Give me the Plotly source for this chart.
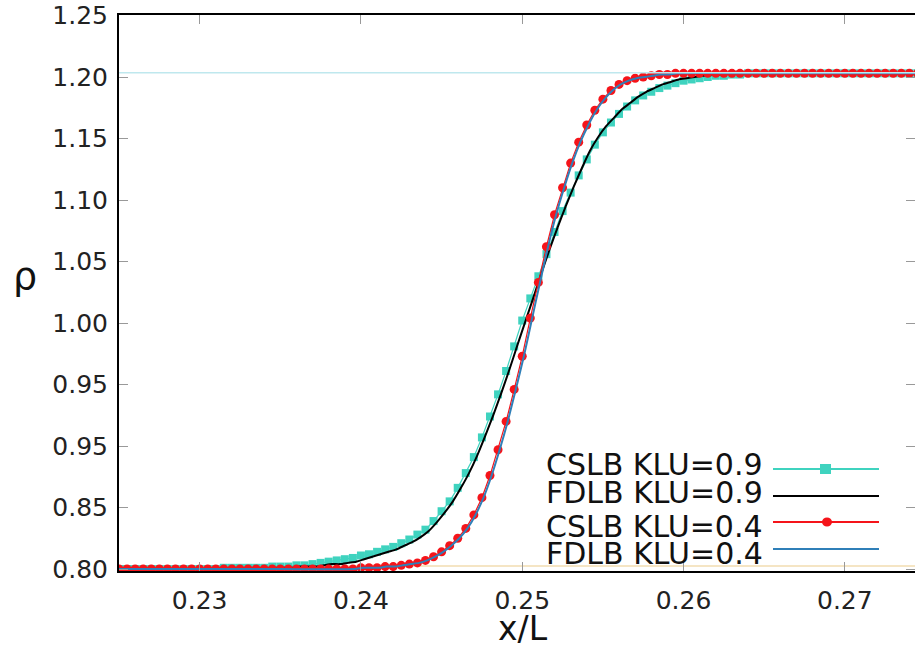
import plotly.graph_objects as go

# ---------------- data ----------------
X_CSLB = [0.2250, 0.2255, 0.2260, 0.2265, 0.2270, 0.2275, 0.2280, 0.2285, 0.2290, 0.2295,
          0.2300, 0.2305, 0.2310, 0.2315, 0.2320, 0.2325, 0.2330, 0.2335, 0.2340, 0.2345,
          0.2350, 0.2355, 0.2360, 0.2365, 0.2370, 0.2375, 0.2380, 0.2385, 0.2390, 0.2395,
          0.2400, 0.2405, 0.2410, 0.2415, 0.2420, 0.2425, 0.2430, 0.2435, 0.2440, 0.2445,
          0.2450, 0.2455, 0.2460, 0.2465, 0.2470, 0.2475, 0.2480, 0.2485, 0.2490, 0.2495,
          0.2500, 0.2505, 0.2510, 0.2515, 0.2520, 0.2525, 0.2530, 0.2535, 0.2540, 0.2545,
          0.2550, 0.2555, 0.2560, 0.2565, 0.2570, 0.2575, 0.2580, 0.2585, 0.2590, 0.2595,
          0.2600, 0.2605, 0.2610, 0.2615, 0.2620, 0.2625, 0.2630, 0.2635, 0.2640, 0.2645,
          0.2650, 0.2655, 0.2660, 0.2665, 0.2670, 0.2675, 0.2680, 0.2685, 0.2690, 0.2695,
          0.2700, 0.2705, 0.2710, 0.2715, 0.2720, 0.2725, 0.2730, 0.2735, 0.2740, 0.2745,
          0.2750]

CSLB_09 = [0.800, 0.800, 0.800, 0.800, 0.800, 0.800, 0.800, 0.800, 0.800, 0.800,
           0.800, 0.800, 0.800, 0.801, 0.801, 0.801, 0.801, 0.801, 0.801, 0.802,
           0.802, 0.802, 0.803, 0.803, 0.804, 0.805, 0.806, 0.807, 0.808, 0.809,
           0.811, 0.812, 0.814, 0.816, 0.818, 0.821, 0.824, 0.828, 0.832, 0.839,
           0.847, 0.855, 0.866, 0.878, 0.891, 0.907, 0.924, 0.942, 0.961, 0.981,
           1.002, 1.020, 1.038, 1.056, 1.074, 1.091, 1.106, 1.120, 1.133, 1.145,
           1.155, 1.163, 1.170, 1.176, 1.181, 1.185, 1.188, 1.191, 1.193, 1.195,
           1.197, 1.198, 1.199, 1.200, 1.201, 1.201, 1.202, 1.202, 1.203, 1.203,
           1.203, 1.203, 1.203, 1.203, 1.203, 1.203, 1.203, 1.203, 1.203, 1.203,
           1.203, 1.203, 1.203, 1.203, 1.203, 1.203, 1.203, 1.203, 1.203, 1.203,
           1.203]

CSLB_04 = [0.800, 0.800, 0.800, 0.800, 0.800, 0.800, 0.800, 0.800, 0.800, 0.800,
           0.800, 0.800, 0.800, 0.800, 0.800, 0.800, 0.800, 0.800, 0.800, 0.800,
           0.800, 0.800, 0.800, 0.800, 0.800, 0.800, 0.800, 0.800, 0.800, 0.800,
           0.801, 0.801, 0.801, 0.802, 0.802, 0.803, 0.804, 0.805, 0.807, 0.810,
           0.814, 0.819, 0.825, 0.833, 0.844, 0.858, 0.876, 0.897, 0.920, 0.946,
           0.973, 1.004, 1.033, 1.062, 1.088, 1.110, 1.130, 1.147, 1.161, 1.173,
           1.182, 1.189, 1.194, 1.197, 1.199, 1.200, 1.201, 1.202, 1.202, 1.203,
           1.203, 1.203, 1.203, 1.203, 1.203, 1.203, 1.203, 1.203, 1.203, 1.203,
           1.203, 1.203, 1.203, 1.203, 1.203, 1.203, 1.203, 1.203, 1.203, 1.203,
           1.203, 1.203, 1.203, 1.203, 1.203, 1.203, 1.203, 1.203, 1.203, 1.203,
           1.203]

X_FDLB_09 = [0.2250, 0.2300,
             0.2352, 0.2357, 0.2362, 0.2367, 0.2372, 0.2377, 0.2382, 0.2387, 0.2392, 0.2397,
             0.2402, 0.2407, 0.2412, 0.2417, 0.2422, 0.2427, 0.2432, 0.2437, 0.2442, 0.2447,
             0.2452, 0.2457, 0.2462, 0.2467, 0.2472, 0.2477, 0.2482, 0.2487, 0.2492, 0.2497,
             0.2502, 0.2507, 0.2512, 0.2517, 0.2522, 0.2527, 0.2532, 0.2537, 0.2542, 0.2547,
             0.2552, 0.2557, 0.2562, 0.2567, 0.2572, 0.2577, 0.2582, 0.2587, 0.2592, 0.2597,
             0.2602, 0.2607, 0.2612, 0.2617, 0.2622, 0.2627, 0.2632, 0.2637, 0.2642, 0.2647,
             0.2652,
             0.2700, 0.2750]
FDLB_09 = [0.800, 0.800,
           0.801, 0.801, 0.802, 0.802, 0.802, 0.803, 0.804, 0.804, 0.805, 0.806,
           0.808, 0.810, 0.812, 0.814, 0.816, 0.819, 0.822, 0.826, 0.831, 0.838,
           0.846, 0.855, 0.866, 0.878, 0.892, 0.908, 0.925, 0.943, 0.962, 0.982,
           1.0015, 1.021, 1.041, 1.060, 1.078, 1.095, 1.111, 1.126, 1.140, 1.151,
           1.160, 1.167, 1.174, 1.179, 1.184, 1.188, 1.191, 1.194, 1.196, 1.198,
           1.199, 1.200, 1.201, 1.202, 1.202, 1.203, 1.203, 1.203, 1.203, 1.203,
           1.203,
           1.203, 1.203]

X_FDLB_04 = [0.2250, 0.2300, 0.2350,
             0.2396, 0.2401, 0.2406, 0.2411, 0.2416, 0.2421, 0.2426, 0.2431, 0.2436, 0.2441,
             0.2446, 0.2451, 0.2456, 0.2461, 0.2466, 0.2471, 0.2476, 0.2481, 0.2486, 0.2491,
             0.2496, 0.2501, 0.2506, 0.2511, 0.2516, 0.2521, 0.2526, 0.2531, 0.2536, 0.2541,
             0.2546, 0.2551, 0.2556, 0.2561, 0.2566, 0.2571, 0.2576, 0.2581, 0.2586, 0.2591,
             0.2596,
             0.2650, 0.2700, 0.2750]
FDLB_04 = [0.800, 0.800, 0.800,
           0.800, 0.801, 0.801, 0.801, 0.802, 0.802, 0.803, 0.804, 0.805, 0.807,
           0.810, 0.814, 0.819, 0.825, 0.833, 0.844, 0.858, 0.876, 0.897, 0.920,
           0.946, 0.973, 1.003, 1.033, 1.062, 1.088, 1.110, 1.130, 1.147, 1.161,
           1.173, 1.182, 1.189, 1.194, 1.197, 1.199, 1.200, 1.201, 1.202, 1.202,
           1.203,
           1.203, 1.203, 1.203]

# faint reference lines seen in the picture
X_REF = [0.2250, 0.2750]
REF_TOP = [1.2035, 1.2035]
REF_BOTTOM = [0.8025, 0.8025]

X_TICKS = [0.23, 0.24, 0.25, 0.26, 0.27]
X_TICK_TEXT = ["0.23", "0.24", "0.25", "0.26", "0.27"]
Y_TICKS = [0.80, 0.85, 0.90, 0.95, 1.00, 1.05, 1.10, 1.15, 1.20, 1.25]
Y_TICK_TEXT = ["0.80", "0.85", "0.95", "0.95", "1.00", "1.05", "1.10", "1.15", "1.20", "1.25"]

LABELS = ["CSLB KLU=0.9", "FDLB KLU=0.9", "CSLB KLU=0.4", "FDLB KLU=0.4"]

# ---------------- styling ----------------
FONT = "DejaVu Sans"
TEAL = "#3fd3bf"
RED = "#f5141a"
BLUE = "#2f7fb8"
BLACK = "#000000"

fig = go.Figure()

fig.add_trace(go.Scatter(x=X_REF, y=REF_BOTTOM, mode="lines",
                         line=dict(color="#f2ddb0", width=1.5), hoverinfo="skip"))
fig.add_trace(go.Scatter(x=X_REF, y=REF_TOP, mode="lines", yaxis="y2",
                         line=dict(color="#bfe8ee", width=1.5), hoverinfo="skip"))

fig.add_trace(go.Scatter(x=X_CSLB, y=CSLB_09, mode="lines+markers", name=LABELS[0],
                         line=dict(color=TEAL, width=1.2),
                         marker=dict(symbol="square", size=8, color=TEAL)))
fig.add_trace(go.Scatter(x=X_FDLB_09, y=FDLB_09, mode="lines", name=LABELS[1],
                         line=dict(color=BLACK, width=2, shape="spline", smoothing=0.6)))
fig.add_trace(go.Scatter(x=X_CSLB, y=CSLB_04, mode="lines+markers", name=LABELS[2],
                         line=dict(color=RED, width=1.2),
                         marker=dict(symbol="circle", size=9, color=RED)))
fig.add_trace(go.Scatter(x=X_FDLB_04, y=FDLB_04, mode="lines", name=LABELS[3],
                         line=dict(color=BLUE, width=2, shape="spline", smoothing=0.6)))

# plot area geometry in pixels (used only to place the legend in paper units)
L, R, T, B = 119, 915, 15, 571
def px(x):
    return (x - L) / (R - L)
def py(y):
    return (B - y) / (B - T)

annotations = []
shapes = []
legend_rows = [
    (LABELS[0], 464, 469, TEAL, "square"),
    (LABELS[1], 492, 496, BLACK, None),
    (LABELS[2], 526, 522, RED, "circle"),
    (LABELS[3], 553, 549, BLUE, None),
]
for text, ty, ly, col, sym in legend_rows:
    annotations.append(dict(text=text, xref="paper", yref="paper", x=px(765), y=py(ty),
                            xanchor="right", yanchor="middle", showarrow=False,
                            font=dict(family=FONT, size=30, color="#111")))
    shapes.append(dict(type="line", xref="paper", yref="paper", x0=px(773), x1=px(879),
                       y0=py(ly), y1=py(ly), line=dict(color=col, width=2)))
    if sym == "square":
        shapes.append(dict(type="rect", xref="paper", yref="paper", x0=px(820), x1=px(831),
                           y0=py(474), y1=py(464), fillcolor=col, line=dict(width=0)))
    elif sym == "circle":
        shapes.append(dict(type="circle", xref="paper", yref="paper", x0=px(822), x1=px(832),
                           y0=py(526.5), y1=py(517.5), fillcolor=col, line=dict(width=0)))

annotations.append(dict(text="ρ", xref="paper", yref="paper", x=px(25), y=py(276),
                        xanchor="center", yanchor="middle", showarrow=False,
                        font=dict(family=FONT, size=38, color="#111")))
annotations.append(dict(text="x/L", xref="paper", yref="paper", x=px(523), y=py(628),
                        xanchor="center", yanchor="middle", showarrow=False,
                        font=dict(family=FONT, size=33, color="#111")))

YR = [0.7984, 1.2504]
fig.update_layout(
    width=915, height=648,
    margin=dict(l=L, r=915 - R, t=T, b=648 - B),
    plot_bgcolor="white", paper_bgcolor="white",
    showlegend=False,
    xaxis=dict(range=[0.225, 0.27435], tickvals=X_TICKS, ticktext=X_TICK_TEXT,
               ticks="inside", ticklen=9, tickwidth=1, tickcolor="#999",
               showline=True, linecolor="black", linewidth=2, mirror="ticks",
               showgrid=False, zeroline=False, ticklabelstandoff=6,
               tickfont=dict(family=FONT, size=25, color="#222")),
    yaxis=dict(range=YR, tickvals=Y_TICKS, ticktext=Y_TICK_TEXT,
               ticks="inside", ticklen=9, tickwidth=1, tickcolor="#999",
               showline=True, linecolor="black", linewidth=2,
               showgrid=False, zeroline=False, ticklabelstandoff=4,
               tickfont=dict(family=FONT, size=25, color="#222")),
    yaxis2=dict(range=YR, overlaying="y", side="right", tickvals=Y_TICKS,
                showticklabels=False, ticks="inside", ticklen=9, tickwidth=1,
                tickcolor="#999", showline=False, showgrid=False, zeroline=False),
    annotations=annotations,
    shapes=shapes,
)

fig.write_html("out.html")
